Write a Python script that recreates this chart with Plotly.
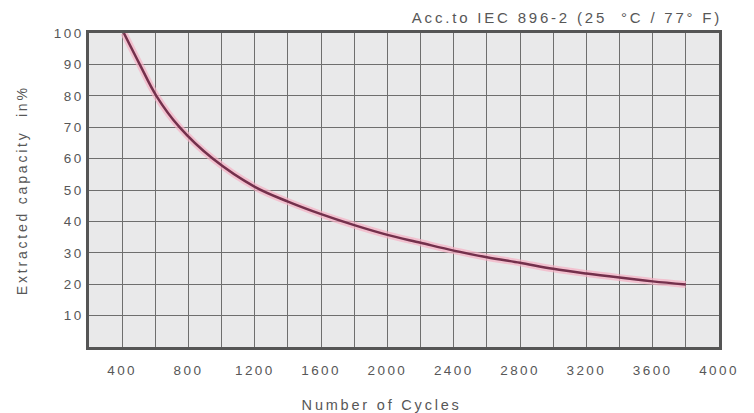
import plotly.graph_objects as go

# Data
cycles = [410, 506, 606, 746, 946, 1200, 1400, 1600, 1800, 2000, 2200, 2400, 2600, 2800, 3000, 3200, 3400, 3600, 3800]
capacity = [100, 90, 80, 70, 60, 51, 46.3, 42.3, 38.8, 35.7, 33.2, 30.7, 28.6, 26.8, 24.9, 23.4, 22.1, 20.9, 19.9]

x_tick_vals = [400, 800, 1200, 1600, 2000, 2400, 2800, 3200, 3600, 4000]
x_tick_labels = ["400", "800", "1200", "1600", "2000", "2400", "2800", "3200", "3600", "4000"]
y_tick_vals = [10, 20, 30, 40, 50, 60, 70, 80, 90, 100]
y_tick_labels = ["10", "20", "30", "40", "50", "60", "70", "80", "90", "100"]

title_text = "Acc.to IEC 896-2 (25  °C / 77° F)"
x_title = "Number of Cycles"
y_title = "Extracted capacity  in%"

FONT = "Liberation Sans, Arial, sans-serif"
TXT = "#575757"
GRID = "#6e6e6e"

# page body has an 8px default margin; compensate
OFF = 8
W, H = 754 - OFF, 413 - OFF
L, R, T, B = 89 - OFF, 35, 33 - OFF, 66
PW, PH = W - L - R, H - T - B

fig = go.Figure()
# soft pink halo
fig.add_trace(go.Scatter(x=cycles, y=capacity, mode="lines",
                         line=dict(color="rgba(245,175,195,0.7)", width=7, shape="spline"),
                         hoverinfo="skip", showlegend=False))
fig.add_trace(go.Scatter(x=cycles, y=capacity, mode="lines",
                         line=dict(color="#74304c", width=2.5, shape="spline"),
                         showlegend=False))

fig.update_layout(
    width=W, height=H,
    margin=dict(l=L, r=R, t=T, b=B),
    paper_bgcolor="white",
    plot_bgcolor="#e9e9ea",
    font=dict(family=FONT, color=TXT, size=13),
    xaxis=dict(range=[200, 4000], tickvals=x_tick_vals, ticktext=x_tick_labels,
               showgrid=True, gridcolor=GRID, gridwidth=1.2,
               minor=dict(dtick=200, tick0=200, showgrid=True, gridcolor=GRID, gridwidth=1.2),
               showline=True, linecolor="#555555", linewidth=2.5, mirror=True,
               ticks="", ticklabelstandoff=9, zeroline=False,
               tickfont=dict(size=13.5, color=TXT)),
    yaxis=dict(range=[0, 100], tickvals=y_tick_vals, ticktext=y_tick_labels,
               showgrid=True, gridcolor=GRID, gridwidth=1.2,
               showline=True, linecolor="#555555", linewidth=2.5, mirror=True,
               ticks="", ticklabelstandoff=0, zeroline=False,
               tickfont=dict(size=13.5, color=TXT)),
)

# annotations are centred (letter spacing widens them symmetrically)
fig.add_annotation(text=title_text, xref="paper", yref="paper", x=(567 - 89) / PW, y=1 + 15 / PH,
                   xanchor="center", yanchor="middle", showarrow=False,
                   font=dict(size=15, color=TXT, family=FONT))
fig.add_annotation(text=x_title, xref="paper", yref="paper", x=(381 - 89) / PW, y=-(405 - 347) / PH,
                   xanchor="center", yanchor="middle", showarrow=False,
                   font=dict(size=14.5, color=TXT, family=FONT))
fig.add_annotation(text=y_title, xref="paper", yref="paper", x=-(89 - 22) / PW, y=0.5,
                   xanchor="center", yanchor="middle", showarrow=False, textangle=-90,
                   font=dict(size=14, color=TXT, family=FONT))

# faint right border of the image
fig.add_shape(type="line", xref="paper", yref="paper",
              x0=(752 - 89) / PW, x1=(752 - 89) / PW, y0=-B / PH, y1=1 + T / PH,
              line=dict(color="#d0d0d0", width=1.5))

# the reference lettering is wide: widen it with letter spacing
post = """
var gd = document.getElementById('{plot_id}');
gd.querySelectorAll('.xtick text, .ytick text').forEach(function(t){ t.style.letterSpacing = '2.4px'; });
gd.querySelectorAll('.annotation-text').forEach(function(t){ t.style.letterSpacing = '2.8px'; });
"""
fig.write_html("out.html", post_script=post)
